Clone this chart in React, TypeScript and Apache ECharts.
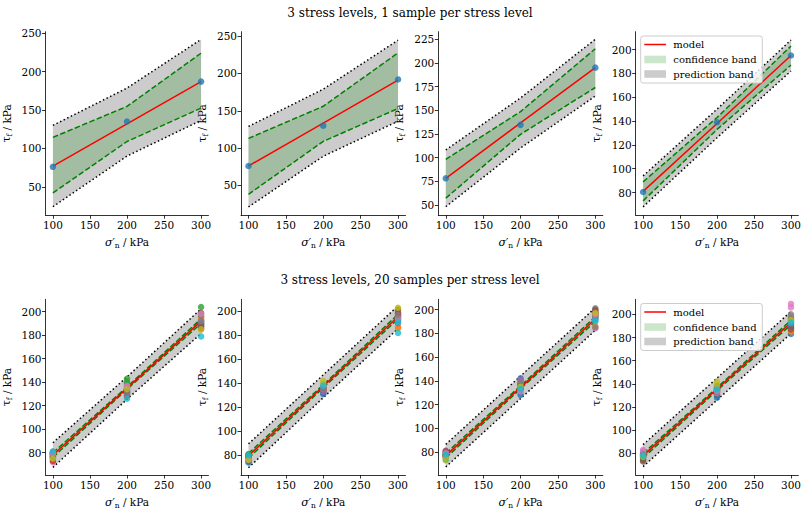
import React, { useEffect, useRef } from 'react';
import * as echarts from 'echarts';

const FONT = 'DejaVu Serif';
const TAB10 = ['#1f77b4', '#ff7f0e', '#2ca02c', '#d62728', '#9467bd', '#8c564b', '#e377c2', '#7f7f7f', '#bcbd22', '#17becf'];

const TITLES = ['3 stress levels, 1 sample per stress level', '3 stress levels, 20 samples per stress level'];
const STRESS = [100, 200, 300];
const X_TICKS = [100, 150, 200, 250, 300];
const X_RANGE = [90, 310];

// ---- top row: 1 sample per stress level ----
const p1Points = [76, 135, 187];
const p1Model = [77, 132, 187];
const p1ConfLo = [42, 109, 152.6];
const p1ConfHi = [114.4, 154.7, 224];
const p1PredLo = [24, 90, 136.5];
const p1PredHi = [130, 178.6, 242];
const p1YRange = [13, 252];
const p1YTicks = [50, 100, 150, 200, 250];

const p2Points = [76, 130, 192];
const p2Model = [76, 133.5, 191];
const p2ConfLo = [38, 109, 153];
const p2ConfHi = [113, 156, 227.6];
const p2PredLo = [21, 89, 136];
const p2PredHi = [129, 179, 244.6];
const p2YRange = [10, 256];
const p2YTicks = [50, 100, 150, 200, 250];

const p3Points = [78, 134.5, 195];
const p3Model = [78, 136.5, 195];
const p3ConfLo = [57, 124.5, 174];
const p3ConfHi = [98, 148.5, 215];
const p3PredLo = [48, 110, 165];
const p3PredHi = [108, 163, 225];
const p3YRange = [39, 233];
const p3YTicks = [50, 75, 100, 125, 150, 175, 200, 225];

const p4Points = [80.5, 139, 195];
const p4Model = [81, 138, 195];
const p4ConfLo = [73, 133, 187];
const p4ConfHi = [89, 143, 203];
const p4PredLo = [68, 126, 182];
const p4PredHi = [94, 150, 208];
const p4YRange = [61, 215];
const p4YTicks = [80, 100, 120, 140, 160, 180, 200];

// ---- bottom row: 20 samples per stress level ----
const p5At100 = [79, 81, 77, 80, 76, 78, 72, 79, 74, 80, 77, 79, 78, 73, 80, 76, 79, 75, 75, 81];
const p5At200 = [135, 138, 143, 131, 133, 137, 129, 132, 134, 139, 131, 136, 140, 128, 135, 133, 137, 130, 134, 126];
const p5At300 = [190, 195, 204, 188, 192, 199, 196, 193, 185, 190, 187, 194, 197, 186, 191, 189, 198, 192, 185, 179];
const p5Model = [78, 135, 192];
const p5ConfLo = [76, 134, 190];
const p5ConfHi = [80, 136, 194];
const p5PredLo = [67.5, 125.5, 181.5];
const p5PredHi = [88.5, 144.5, 202.5];
const p5YRange = [61, 210.6];

const p6At100 = [74, 79, 78, 80, 77, 76, 79, 78, 80, 77, 75, 78, 81, 79, 76, 80, 77, 79, 76, 80];
const p6At200 = [131, 137, 134, 136, 133, 135, 138, 136, 142, 139, 132, 135, 137, 134, 133, 136, 138, 135, 140, 138];
const p6At300 = [195, 186, 196, 192, 198, 194, 197, 199, 202, 182, 193, 187, 196, 198, 190, 201, 194, 197, 203, 191];
const p6Model = [79.5, 137.5, 195.5];
const p6ConfLo = [77.5, 136.3, 193.5];
const p6ConfHi = [81.5, 138.7, 197.5];
const p6PredLo = [69.5, 128, 185.5];
const p6PredHi = [89.5, 147, 204.5];
const p6YRange = [63.5, 210];

const p7At100 = [78, 76, 79, 77, 80, 78, 81, 79, 73, 74, 77, 79, 78, 76, 80, 81, 79, 77, 75, 78];
const p7At200 = [142, 134, 137, 135, 133, 138, 130, 140, 136, 132, 128, 139, 137, 134, 141, 136, 131, 138, 135, 133];
const p7At300 = [195, 197, 193, 199, 192, 196, 184, 201, 194, 190, 198, 186, 195, 197, 193, 200, 196, 185, 197, 191];
const p7Model = [77, 134.5, 192];
const p7ConfLo = [75, 133.3, 190];
const p7ConfHi = [79, 135.7, 194];
const p7PredLo = [67.5, 125, 182.5];
const p7PredHi = [86.5, 144, 201.5];
const p7YRange = [60.7, 208.6];

const p8At100 = [76, 78, 80, 77, 79, 73, 83, 78, 80, 81, 77, 79, 75, 78, 80, 74, 82, 79, 77, 78];
const p8At200 = [128, 134, 136, 131, 133, 137, 135, 134, 142, 137, 130, 132, 136, 135, 133, 138, 134, 136, 139, 135];
const p8At300 = [183, 186, 195, 189, 192, 188, 209, 200, 197, 194, 190, 185, 193, 196, 191, 187, 206, 198, 195, 193];
const p8Model = [78, 135.5, 193];
const p8ConfLo = [76, 134.3, 191];
const p8ConfHi = [80, 136.7, 195];
const p8PredLo = [68.5, 126, 183.5];
const p8PredHi = [87.5, 145, 202.5];
const p8YRange = [61.3, 213];

const BOTTOM_TICKS = [80, 100, 120, 140, 160, 180, 200];

const LEGEND_LABELS = ['model', 'confidence band', 'prediction band'];

type Panel = {
  samples: number[][];
  model: number[];
  confLo: number[];
  confHi: number[];
  predLo: number[];
  predHi: number[];
  yRange: number[];
  yTicks: number[];
  multi: boolean;
};

const PANELS: Panel[] = [
  { samples: [p1Points], model: p1Model, confLo: p1ConfLo, confHi: p1ConfHi, predLo: p1PredLo, predHi: p1PredHi, yRange: p1YRange, yTicks: p1YTicks, multi: false },
  { samples: [p2Points], model: p2Model, confLo: p2ConfLo, confHi: p2ConfHi, predLo: p2PredLo, predHi: p2PredHi, yRange: p2YRange, yTicks: p2YTicks, multi: false },
  { samples: [p3Points], model: p3Model, confLo: p3ConfLo, confHi: p3ConfHi, predLo: p3PredLo, predHi: p3PredHi, yRange: p3YRange, yTicks: p3YTicks, multi: false },
  { samples: [p4Points], model: p4Model, confLo: p4ConfLo, confHi: p4ConfHi, predLo: p4PredLo, predHi: p4PredHi, yRange: p4YRange, yTicks: p4YTicks, multi: false },
  { samples: p5At100.map((v, i) => [v, p5At200[i], p5At300[i]]), model: p5Model, confLo: p5ConfLo, confHi: p5ConfHi, predLo: p5PredLo, predHi: p5PredHi, yRange: p5YRange, yTicks: BOTTOM_TICKS, multi: true },
  { samples: p6At100.map((v, i) => [v, p6At200[i], p6At300[i]]), model: p6Model, confLo: p6ConfLo, confHi: p6ConfHi, predLo: p6PredLo, predHi: p6PredHi, yRange: p6YRange, yTicks: BOTTOM_TICKS, multi: true },
  { samples: p7At100.map((v, i) => [v, p7At200[i], p7At300[i]]), model: p7Model, confLo: p7ConfLo, confHi: p7ConfHi, predLo: p7PredLo, predHi: p7PredHi, yRange: p7YRange, yTicks: BOTTOM_TICKS, multi: true },
  { samples: p8At100.map((v, i) => [v, p8At200[i], p8At300[i]]), model: p8Model, confLo: p8ConfLo, confHi: p8ConfHi, predLo: p8PredLo, predHi: p8PredHi, yRange: p8YRange, yTicks: BOTTOM_TICKS, multi: true },
];

// layout
const GRID_LEFTS = [44, 241, 438.3, 635.7];
const GRID_W = 164.5;
const GRID_TOPS = [31.7, 299.3];
const GRID_H = 183.5;
const TITLE_X = 410;
const TITLE_YS = [13, 280];

const PRED_FILL = 'rgba(128,128,128,0.4)';
const CONF_FILL = 'rgba(0,128,0,0.2)';

const axisCommon = {
  axisLine: { show: true, onZero: false, lineStyle: { color: '#000', width: 0.8 } },
  axisTick: { show: true, length: 3.5, lineStyle: { color: '#000', width: 0.8 } },
  splitLine: { show: false },
};
const labelStyle = { color: '#000', fontFamily: FONT, fontSize: 10.5 };

function bandSeries(idx: number, lo: number[], hi: number[], fill: string, z: number) {
  return {
    type: 'custom',
    xAxisIndex: idx,
    yAxisIndex: idx,
    z,
    silent: true,
    data: [[STRESS[0], lo[0]]],
    renderItem: (_p: any, api: any) => {
      const pts: number[][] = [];
      STRESS.forEach((x, i) => pts.push(api.coord([x, hi[i]])));
      for (let i = STRESS.length - 1; i >= 0; i--) pts.push(api.coord([STRESS[i], lo[i]]));
      return { type: 'polygon', shape: { points: pts }, style: { fill } };
    },
  };
}

function lineSeries(idx: number, ys: number[], color: string, type: any, z: number) {
  return {
    type: 'line',
    xAxisIndex: idx,
    yAxisIndex: idx,
    data: STRESS.map((x, i) => [x, ys[i]]),
    showSymbol: false,
    symbol: 'none',
    silent: true,
    z,
    lineStyle: { color, width: 1.5, type, cap: 'butt' },
  };
}

function legendGraphics(x0: number, y0: number) {
  const rows = [y0 + 8.5, y0 + 23.5, y0 + 38];
  const els: any[] = [
    { type: 'rect', shape: { x: x0, y: y0, width: 121.6, height: 47, r: 2.5 }, style: { fill: 'rgba(255,255,255,0.8)', stroke: '#cccccc', lineWidth: 1 }, z: 100 },
    { type: 'line', shape: { x1: x0 + 3.6, y1: rows[0], x2: x0 + 25.3, y2: rows[0] }, style: { stroke: '#ff0000', lineWidth: 1.5 }, z: 101 },
    { type: 'rect', shape: { x: x0 + 3.6, y: rows[1] - 3.8, width: 21.7, height: 7.6 }, style: { fill: CONF_FILL }, z: 101 },
    { type: 'rect', shape: { x: x0 + 3.6, y: rows[2] - 3.8, width: 21.7, height: 7.6 }, style: { fill: PRED_FILL }, z: 101 },
  ];
  LEGEND_LABELS.forEach((t, i) => {
    els.push({
      type: 'text', x: x0 + 32.6, y: rows[i], z: 101,
      style: { text: t, fill: '#000', font: `10px "${FONT}"`, textAlign: 'left', textVerticalAlign: 'middle' },
    });
  });
  return els;
}

export default function App() {
  const ref = useRef<HTMLDivElement>(null);
  useEffect(() => {
    if (!ref.current) return;
    const chart = echarts.init(ref.current, undefined, { renderer: 'svg' });
    const grid: any[] = [];
    const xAxis: any[] = [];
    const yAxis: any[] = [];
    const series: any[] = [];

    PANELS.forEach((p, idx) => {
      const col = idx % 4;
      const row = Math.floor(idx / 4);
      grid.push({ left: GRID_LEFTS[col], top: GRID_TOPS[row], width: GRID_W, height: GRID_H, containLabel: false });
      xAxis.push({
        type: 'value', gridIndex: idx, min: X_RANGE[0], max: X_RANGE[1],
        ...axisCommon,
        axisTick: { ...axisCommon.axisTick, customValues: X_TICKS },
        axisLabel: { ...labelStyle, margin: 4, customValues: X_TICKS },
        name: '{i|σ}{p|′}{s|n}{t| / kPa}',
        nameLocation: 'middle',
        nameGap: 20,
        nameTextStyle: {
          ...labelStyle,
          rich: {
            i: { fontFamily: FONT, fontSize: 11, fontStyle: 'italic', color: '#000', lineHeight: 14 },
            p: { fontFamily: FONT, fontSize: 10.5, color: '#000', lineHeight: 14 },
            s: { fontFamily: FONT, fontSize: 7.5, color: '#000', lineHeight: 14, verticalAlign: 'bottom' },
            t: { fontFamily: FONT, fontSize: 10.5, color: '#000', lineHeight: 14 },
          },
        },
      });
      yAxis.push({
        type: 'value', gridIndex: idx, min: p.yRange[0], max: p.yRange[1],
        ...axisCommon,
        axisTick: { ...axisCommon.axisTick, customValues: p.yTicks },
        axisLabel: { ...labelStyle, margin: 4, customValues: p.yTicks },
        name: '{i|τ}{s|f}{t| / kPa}',
        nameLocation: 'middle',
        nameGap: 32,
        nameRotate: 90,
        nameTextStyle: {
          ...labelStyle,
          rich: {
            i: { fontFamily: FONT, fontSize: 11, color: '#000', lineHeight: 14 },
            s: { fontFamily: FONT, fontSize: 7.5, color: '#000', lineHeight: 14, verticalAlign: 'bottom' },
            t: { fontFamily: FONT, fontSize: 10.5, color: '#000', lineHeight: 14 },
          },
        },
      });

      series.push(bandSeries(idx, p.predLo, p.predHi, PRED_FILL, 1));
      series.push(bandSeries(idx, p.confLo, p.confHi, CONF_FILL, 2));
      series.push(lineSeries(idx, p.predLo, '#000', [1.5, 2.5], 3));
      series.push(lineSeries(idx, p.predHi, '#000', [1.5, 2.5], 3));
      series.push(lineSeries(idx, p.confLo, '#008000', [5.5, 2.4], 3));
      series.push(lineSeries(idx, p.confHi, '#008000', [5.5, 2.4], 3));
      series.push(lineSeries(idx, p.model, '#ff0000', 'solid', 4));

      const pts: any[] = [];
      p.samples.forEach((s, si) => {
        STRESS.forEach((x, i) => {
          pts.push({ value: [x, s[i]], itemStyle: { color: p.multi ? TAB10[si % 10] : TAB10[0] } });
        });
      });
      series.push({
        type: 'scatter', xAxisIndex: idx, yAxisIndex: idx, data: pts, symbolSize: 6.5, z: 5, silent: true,
      });
    });

    const graphic: any[] = [
      { type: 'text', x: TITLE_X, y: TITLE_YS[0], style: { text: TITLES[0], fill: '#000', font: `12px "${FONT}"`, textAlign: 'center', textVerticalAlign: 'middle' } },
      { type: 'text', x: TITLE_X, y: TITLE_YS[1], style: { text: TITLES[1], fill: '#000', font: `12px "${FONT}"`, textAlign: 'center', textVerticalAlign: 'middle' } },
      ...legendGraphics(640.7, 36),
      ...legendGraphics(640.7, 303.5),
    ];

    chart.setOption({
      animation: false,
      backgroundColor: '#ffffff',
      grid, xAxis, yAxis, series, graphic,
    });
    return () => chart.dispose();
  }, []);
  return <div ref={ref} style={{ position: 'fixed', left: 0, top: 0, width: 804, height: 510 }} />;
}
